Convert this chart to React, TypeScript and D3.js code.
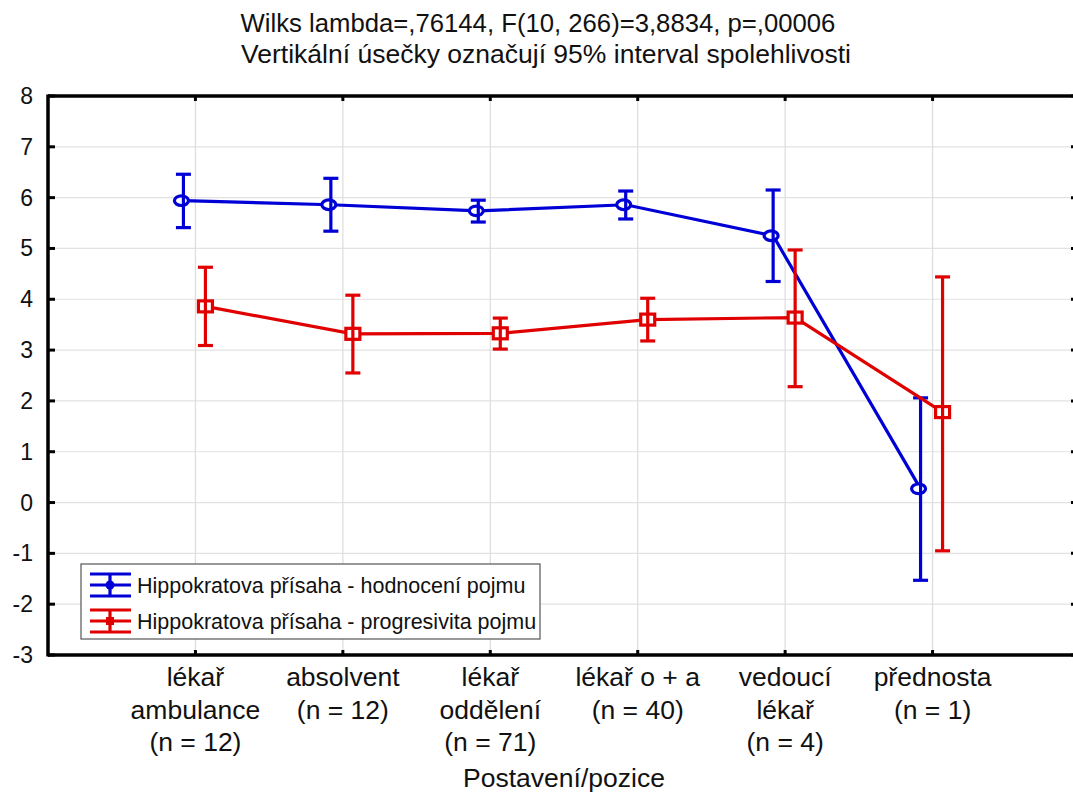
import React from "react";
import * as d3 from "d3";

const categories: string[][] = [
  ["lékař", "ambulance", "(n = 12)"],
  ["absolvent", "(n = 12)"],
  ["lékař", "oddělení", "(n = 71)"],
  ["lékař o + a", "(n = 40)"],
  ["vedoucí", "lékař", "(n = 4)"],
  ["přednosta", "(n = 1)"],
];

const blueMean = [5.94, 5.86, 5.74, 5.86, 5.25, 0.27];
const blueLow = [5.41, 5.34, 5.52, 5.58, 4.35, -1.53];
const blueHigh = [6.46, 6.38, 5.95, 6.13, 6.15, 2.06];

const redMean = [3.86, 3.32, 3.33, 3.6, 3.64, 1.78];
const redLow = [3.09, 2.55, 3.02, 3.18, 2.28, -0.95];
const redHigh = [4.63, 4.08, 3.63, 4.02, 4.97, 4.44];

const yTicks = [-3, -2, -1, 0, 1, 2, 3, 4, 5, 6, 7, 8];

const titleLines = [
  "Wilks lambda=,76144, F(10, 266)=3,8834, p=,00006",
  "Vertikální úsečky označují 95% interval spolehlivosti",
];
const xTitle = "Postavení/pozice";
const legendLabels = [
  "Hippokratova přísaha - hodnocení pojmu",
  "Hippokratova přísaha - progresivita pojmu",
];

const BLUE = "#0000d6";
const RED = "#e00000";
const FONT = "Liberation Sans, Arial, sans-serif";

export default function App() {
  const W = 1073;
  const H = 796;
  const left = 48;
  const top = 96;
  const bottom = 655;
  const right = 1080;

  const x = d3.scaleLinear().domain([-1, 6]).range([left, right]);
  const y = d3.scaleLinear().domain([-3, 8]).range([bottom, top]);

  const blueOff = -12;
  const redOff = 10;

  const bluePath = d3
    .line<number>()
    .x((_, i) => x(i) + blueOff)
    .y((d) => y(d))(blueMean) as string;
  const redPath = d3
    .line<number>()
    .x((_, i) => x(i) + redOff)
    .y((d) => y(d))(redMean) as string;

  const cap = 7.5;

  return (
    <svg
      width={W}
      height={H}
      style={{ position: "absolute", left: 0, top: 0, background: "#fff" }}
      fontFamily={FONT}
    >
      <rect x={0} y={0} width={W} height={H} fill="#fff" />
      {/* titles */}
      <text x={538} y={32} textAnchor="middle" fontSize={25.7} fill="#111">
        {titleLines[0]}
      </text>
      <text x={546} y={63} textAnchor="middle" fontSize={26.5} fill="#111">
        {titleLines[1]}
      </text>

      {/* grid */}
      {yTicks.map((t) => (
        <line key={"gy" + t} x1={left} x2={right} y1={y(t)} y2={y(t)} stroke="#e2e2e2" strokeWidth={1.2} />
      ))}
      {categories.map((_, i) => (
        <line key={"gx" + i} x1={x(i)} x2={x(i)} y1={top} y2={bottom} stroke="#dcdcdc" strokeWidth={1.2} />
      ))}

      {/* frame */}
      <line x1={left} x2={left} y1={top - 1.5} y2={bottom + 1.5} stroke="#000" strokeWidth={3.5} />
      <line x1={left} x2={right} y1={top} y2={top} stroke="#000" strokeWidth={3.5} />
      <line x1={left} x2={right} y1={bottom} y2={bottom} stroke="#000" strokeWidth={3.5} />
      <line x1={right} x2={right} y1={top} y2={bottom} stroke="#000" strokeWidth={3.5} />

      {/* y ticks */}
      {yTicks.map((t) => (
        <g key={"yt" + t}>
          <line x1={left} x2={left + 7} y1={y(t)} y2={y(t)} stroke="#000" strokeWidth={3} />
          <line x1={right - 9} x2={right} y1={y(t)} y2={y(t)} stroke="#000" strokeWidth={3} />
          <text x={33} y={y(t) + 8} textAnchor="end" fontSize={23} fill="#111">
            {t}
          </text>
        </g>
      ))}
      {/* x ticks */}
      {categories.map((lines, i) => (
        <g key={"xt" + i}>
          <line x1={x(i)} x2={x(i)} y1={bottom} y2={bottom - 5} stroke="#000" strokeWidth={3} />
          <line x1={x(i)} x2={x(i)} y1={top} y2={top + 5} stroke="#000" strokeWidth={3} />
          {lines.map((l, j) => (
            <text key={j} x={x(i)} y={686 + j * 32.5} textAnchor="middle" fontSize={26.5} fill="#111">
              {l}
            </text>
          ))}
        </g>
      ))}
      <text x={564} y={787} textAnchor="middle" fontSize={26.5} fill="#111">
        {xTitle}
      </text>

      {/* blue series */}
      <path d={bluePath} fill="none" stroke={BLUE} strokeWidth={3.2} />
      {blueMean.map((m, i) => {
        const cx = x(i) + blueOff;
        return (
          <g key={"b" + i} stroke={BLUE} strokeWidth={3.2}>
            <line x1={cx} x2={cx} y1={y(blueLow[i])} y2={y(blueHigh[i])} />
            <line x1={cx - cap} x2={cx + cap} y1={y(blueLow[i])} y2={y(blueLow[i])} />
            <line x1={cx - cap} x2={cx + cap} y1={y(blueHigh[i])} y2={y(blueHigh[i])} />
            <ellipse cx={cx - 2} cy={y(m)} rx={7} ry={4.8} fill="#fff" />
            <line x1={cx} x2={cx} y1={y(m) - 5} y2={y(m) + 5} />
          </g>
        );
      })}

      {/* red series */}
      <path d={redPath} fill="none" stroke={RED} strokeWidth={3.2} />
      {redMean.map((m, i) => {
        const cx = x(i) + redOff;
        return (
          <g key={"r" + i} stroke={RED} strokeWidth={3.2}>
            <line x1={cx} x2={cx} y1={y(redLow[i])} y2={y(redHigh[i])} />
            <line x1={cx - cap} x2={cx + cap} y1={y(redLow[i])} y2={y(redLow[i])} />
            <line x1={cx - cap} x2={cx + cap} y1={y(redHigh[i])} y2={y(redHigh[i])} />
            <rect x={cx - 7} y={y(m) - 5.5} width={14} height={11} fill="#fff" />
            <line x1={cx} x2={cx} y1={y(m) - 5} y2={y(m) + 5} />
          </g>
        );
      })}

      {/* legend */}
      <rect x={81} y={564} width={459} height={75} fill="#fff" stroke="#555" strokeWidth={1.2} />
      {[BLUE, RED].map((c, k) => {
        const cy = 585 + k * 36;
        return (
          <g key={"lg" + k}>
            <g stroke={c} strokeWidth={3.2}>
              <line x1={90} x2={131} y1={cy - 11} y2={cy - 11} />
              <line x1={90} x2={131} y1={cy} y2={cy} />
              <line x1={90} x2={131} y1={cy + 11} y2={cy + 11} />
              <line x1={110} x2={110} y1={cy - 11} y2={cy + 11} />
            </g>
            {k === 0 ? (
              <circle cx={110} cy={cy} r={4.5} fill={c} />
            ) : (
              <rect x={106} y={cy - 4} width={8} height={8} fill={c} />
            )}
            <text x={137} y={cy + 7.5} fontSize={21.5} fill="#111">
              {legendLabels[k]}
            </text>
          </g>
        );
      })}
    </svg>
  );
}
